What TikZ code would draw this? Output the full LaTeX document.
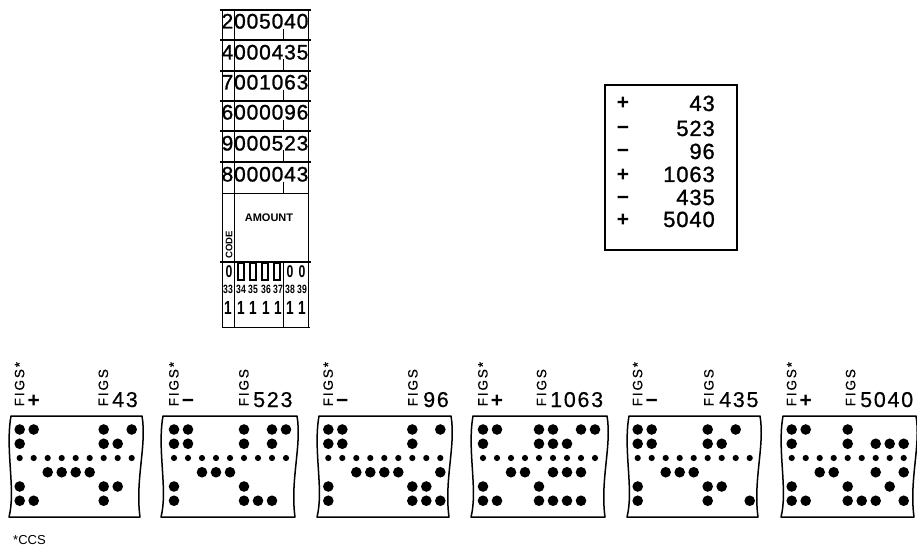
\documentclass[tikz,border=0pt]{standalone}
\usepackage{fontspec}
\setmainfont{Liberation Sans}
\newfontfamily\spacedfont[LetterSpace=4,FakeBold=1.2]{Liberation Sans}
\newfontfamily\widefont[LetterSpace=14,FakeBold=0.6]{Liberation Sans}
\newfontfamily\valuefont[LetterSpace=8,FakeBold=0.4]{Liberation Sans}
\usetikzlibrary{positioning}
\tikzset{
  %% ---- card ----
  cardrule/.style  = {line width=2pt},
  cardline/.style  = {line width=1pt},
  cardtick/.style  = {line width=0.9pt},
  carddigits/.style = {inner sep=0pt, anchor=base, font=\spacedfont\fontsize{21}{21}\selectfont},
  cardnum/.style   = {inner sep=0pt, anchor=base, xscale=0.72, font=\bfseries\fontsize{#1}{#1}\selectfont},
  cardnum/.default = 17,
  punchmark/.style = {draw, line width=1.8pt, fill=white, minimum width=6pt,
                      minimum height=17pt, inner sep=0pt},
  %% ---- list ----
  listbox/.style   = {draw, line width=2.2pt, minimum width=132pt, minimum height=165pt, inner sep=0pt},
  listnum/.style   = {inner sep=0pt, anchor=base east, font=\spacedfont\fontsize{22}{22}\selectfont},
  listsign/.style  = {inner sep=0pt, anchor=base, font=\bfseries\fontsize{21}{21}\selectfont},
  %% ---- tape ----
  tapeedge/.style  = {line width=1.5pt, line join=round},
  figslabel/.style = {inner sep=0pt, rotate=90, anchor=base west, font=\widefont\fontsize{13.5}{14}\selectfont},
  tapesign/.style  = {inner sep=0pt, anchor=base, font=\bfseries\fontsize{21}{21}\selectfont},
  tapenum/.style   = {inner sep=0pt, anchor=base west, font=\valuefont\fontsize{21.5}{22}\selectfont},
}
\newcommand{\punchrow}[2]{\foreach \c in {#2}{\fill (\xa+14*\c,429.5+14.25*#1) circle [radius=5.3pt];}}
\begin{document}
\begin{tikzpicture}[x=1pt, y=-1pt]
\useasboundingbox (0,0) rectangle (917,548);
%% ---- card ----
\draw[cardline] (222.5,10) -- (222.5,327) (234.7,10) -- (234.7,327)
  (308,10) -- (308,327) (283.7,262) -- (283.7,327) (222,327) -- (310,327) (222,193.5) -- (308,193.5);
\foreach \ry in {10.5,40.5,71,101,131.5,162.5}{
  \draw[cardrule] (220,\ry) -- (311,\ry);
  \draw[cardtick] (283.5,\ry+19) -- (283.5,\ry+30);
}
\draw[line width=1.2pt] (220,262) -- (311,262);
\foreach \nm/\ny/\amt in {a/21/2005040,b/52/4000435,c/82/7001063,d/112/6000096,e/143/9000523,f/174/8000043}{
  \node[carddigits] (row\nm) at (265,\ny+7.5) {\amt};
}
\node[inner sep=0pt, font=\bfseries\fontsize{11}{11}\selectfont] (amount) at (269,218) {AMOUNT};
\node[inner sep=0pt, rotate=90, font=\bfseries\fontsize{9.5}{10}\selectfont] (code) at (229,245) {CODE};
\foreach \nm/\cx/\lab in {a/228/33,b/241/34,c/253/35,d/266/36,e/278/37,f/290/38,g/302/39}{
  \node[cardnum=12] (lab\nm) at (\cx,293) {\lab};
  \node[cardnum=19] (one\nm) at (\cx,314) {1};
}
\foreach \nm/\cx in {a/229,f/290,g/302}{
  \node[cardnum] (zero\nm) at (\cx,277) {0};
}
\foreach \nm/\cx in {b/241,c/252.7,d/265,e/277.3}{
  \node[punchmark] (mark\nm) at (\cx,271.5) {};
}
%% ---- list ----
\node[listbox] (list) at (671,167.5) {};
\foreach \nm/\ny/\sgn/\amt in {a/103/+/43,b/128/−/523,c/151/−/96,d/174/+/1063,e/197/−/435,f/219/+/5040}{
  \node[listsign] (sign\nm) at (623,\ny+7) {\sgn};
  \node[listnum] (num\nm) at (715,\ny+8) {\amt};
}
%% ---- tapes ----
\foreach \tp/\xa/\xl/\xr/\sgn/\xb/\xn/\amt/\rows in {
  a/19.7/11/142/+/103.5/112/43/{\punchrow{0}{0,1,6,8}\punchrow{1}{0,6,7}\punchrow{3}{2,3,4,5}\punchrow{4}{0,6,7}\punchrow{5}{0,1,6}},
  b/174/163/297/−/244/253/523/{\punchrow{0}{0,1,5,7,8}\punchrow{1}{0,1,5,7}\punchrow{3}{2,3,4}\punchrow{4}{0,5}\punchrow{5}{0,5,6,7}},
  c/328.3/319/451/−/413/423/96/{\punchrow{0}{0,1,6,8}\punchrow{1}{0,1,6}\punchrow{3}{2,3,4,5,8}\punchrow{4}{0,6,7}\punchrow{5}{0,6,7,8}},
  d/483/473/607/+/541.7/550/1063/{\punchrow{0}{0,1,4,5,7,8}\punchrow{1}{0,4,5,6}\punchrow{3}{2,3,5,6,7}\punchrow{4}{0,4}\punchrow{5}{0,1,4,5,6,7}},
  e/637.7/629/760/−/709/719/435/{\punchrow{0}{0,1,5,7}\punchrow{1}{0,1,5,6}\punchrow{3}{2,3,4}\punchrow{4}{0,5,6}\punchrow{5}{0,5,8}},
  f/791.7/783/916/+/850.7/860/5040/{\punchrow{0}{0,1,4}\punchrow{1}{0,4,6,7,8}\punchrow{3}{2,3,6,8}\punchrow{4}{0,4,7}\punchrow{5}{0,1,4,5,6,8}}
}{
  \draw[tapeedge] (\xl,416) -- (\xr,416)
    .. controls (\xr+5,445) and (\xr-7,480) .. (\xr-2,517) -- (\xl-2,517)
    .. controls (\xl+5,490) and (\xl-6,450) .. cycle;
  \foreach \c in {0,...,8}{
    \fill (\xa+14*\c,458) circle [radius=3.1pt];
  }
  \rows
  \node[figslabel] (figs\tp) at (\xa+4.5,406.5) {FIGS*};
  \node[tapesign] (sign\tp) at (\xa+14,407) {\sgn};
  \node[figslabel] (value\tp) at (\xb+4.5,406.5) {FIGS};
  \node[tapenum] (num\tp) at (\xn,407) {\amt};
}
\node[inner sep=0pt, anchor=west, font=\fontsize{13}{13}\selectfont] (ccs) at (13,540) {*CCS};
\end{tikzpicture}
\end{document}
